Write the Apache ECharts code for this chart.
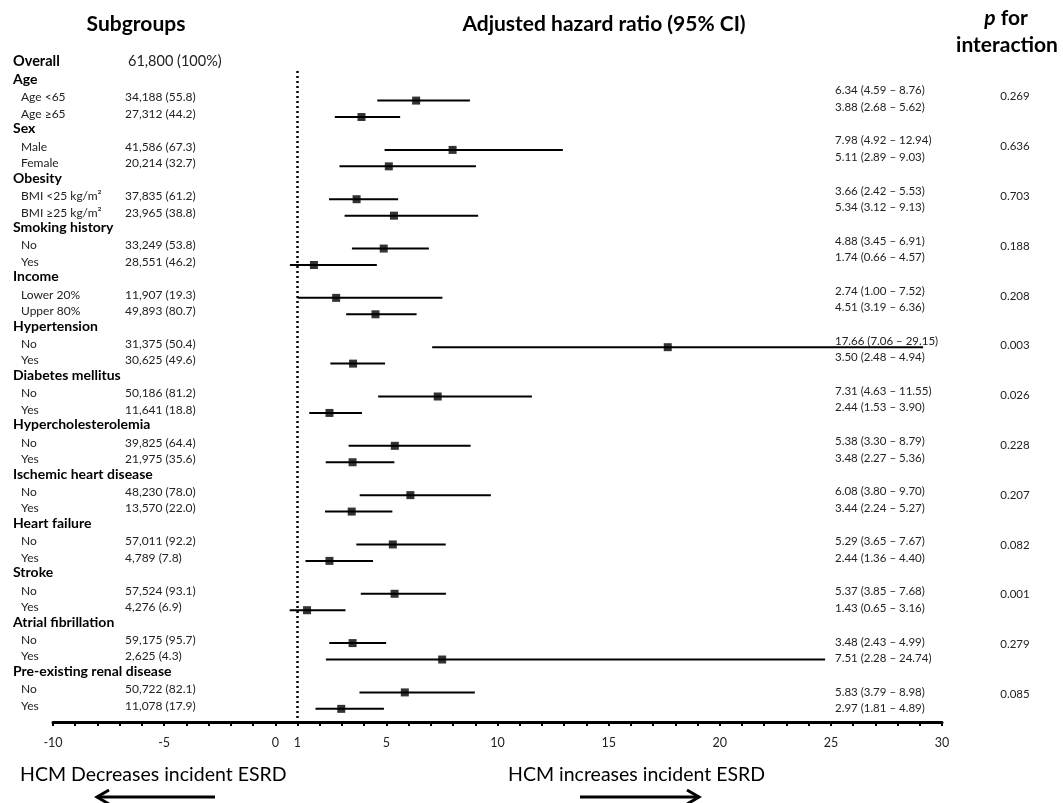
<!DOCTYPE html>
<html>
<head>
<meta charset="utf-8">
<title>Subgroup forest plot</title>
<script src="https://cdn.jsdelivr.net/npm/echarts@6/dist/echarts.min.js"></script>
<style>
  html, body { margin: 0; padding: 0; background: #fff; }
  #main { width: 1063px; height: 803px; }
</style>
</head>
<body>
<div id="main"></div>
<script>
// subgroup headers and their two rows
const groups = ['Age', 'Sex', 'Obesity', 'Smoking history', 'Income', 'Hypertension', 'Diabetes mellitus',
  'Hypercholesterolemia', 'Ischemic heart disease', 'Heart failure', 'Stroke', 'Atrial fibrillation',
  'Pre-existing renal disease'];
const subLabels = [
  ['Age <65', 'Age ≥65'], ['Male', 'Female'], ['BMI <25 kg/m²', 'BMI ≥25 kg/m²'], ['No', 'Yes'],
  ['Lower 20%', 'Upper 80%'], ['No', 'Yes'], ['No', 'Yes'], ['No', 'Yes'], ['No', 'Yes'],
  ['No', 'Yes'], ['No', 'Yes'], ['No', 'Yes'], ['No', 'Yes']
];
const counts = [
  '34,188 (55.8)', '27,312 (44.2)', '41,586 (67.3)', '20,214 (32.7)', '37,835 (61.2)', '23,965 (38.8)',
  '33,249 (53.8)', '28,551 (46.2)', '11,907 (19.3)', '49,893 (80.7)', '31,375 (50.4)', '30,625 (49.6)',
  '50,186 (81.2)', '11,641 (18.8)', '39,825 (64.4)', '21,975 (35.6)', '48,230 (78.0)', '13,570 (22.0)',
  '57,011 (92.2)', '4,789 (7.8)', '57,524 (93.1)', '4,276 (6.9)', '59,175 (95.7)', '2,625 (4.3)',
  '50,722 (82.1)', '11,078 (17.9)'
];
const overallLabel = 'Overall';
const overallCount = '61,800 (100%)';

// adjusted hazard ratio and 95% CI, one value per row
const hr = [6.34, 3.88, 7.98, 5.11, 3.66, 5.34, 4.88, 1.74, 2.74, 4.51, 17.66, 3.50, 7.31, 2.44,
  5.38, 3.48, 6.08, 3.44, 5.29, 2.44, 5.37, 1.43, 3.48, 7.51, 5.83, 2.97];
const ciLow = [4.59, 2.68, 4.92, 2.89, 2.42, 3.12, 3.45, 0.66, 1.00, 3.19, 7.06, 2.48, 4.63, 1.53,
  3.30, 2.27, 3.80, 2.24, 3.65, 1.36, 3.85, 0.65, 2.43, 2.28, 3.79, 1.81];
const ciHigh = [8.76, 5.62, 12.94, 9.03, 5.53, 9.13, 6.91, 4.57, 7.52, 6.36, 29.15, 4.94, 11.55, 3.90,
  8.79, 5.36, 9.70, 5.27, 7.67, 4.40, 7.68, 3.16, 4.99, 24.74, 8.98, 4.89];
const pInteraction = ['0.269', '0.636', '0.703', '0.188', '0.208', '0.003', '0.026', '0.228', '0.207',
  '0.082', '0.001', '0.279', '0.085'];

const xTickLabels = [-10, -5, 0, 1, 5, 10, 15, 20, 25, 30];

const FONT = 'Lato, "Open Sans", sans-serif';

// row position on the (hidden) y axis: group g, item i
function rowY(g, i) { return 3 * g + 1 + i; }

const ciData = [], pointData = [];
hr.forEach(function (v, k) {
  const g = Math.floor(k / 2), i = k % 2;
  ciData.push([ciLow[k], ciHigh[k], rowY(g, i)]);
  pointData.push([v, rowY(g, i)]);
});

let myChart = echarts.init(document.getElementById('main'));

myChart.setOption({
  animation: false,
  grid: { left: 53, right: 121, top: 71, bottom: 81 },
  xAxis: {
    type: 'value',
    min: -10,
    max: 30,
    interval: 1,
    position: 'bottom',
    axisLine: { onZero: false, lineStyle: { color: '#000', width: 3 } },
    axisTick: { show: true, length: 4, lineStyle: { color: '#000', width: 2 } },
    splitLine: { show: false },
    axisLabel: {
      margin: 14,
      color: '#222',
      fontFamily: FONT,
      fontSize: 12.5,
      formatter: function (v) { return xTickLabels.indexOf(v) >= 0 ? String(v) : ''; }
    }
  },
  yAxis: {
    type: 'value',
    inverse: true,
    min: -0.8,
    max: 38.8,
    show: false
  },
  series: [
    {
      type: 'custom',
      name: 'CI',
      data: ciData,
      encode: { x: [0, 1], y: 2 },
      renderItem: function (params, api) {
        const a = api.coord([api.value(0), api.value(2)]);
        const b = api.coord([api.value(1), api.value(2)]);
        return {
          type: 'line',
          shape: { x1: a[0], y1: a[1], x2: b[0], y2: b[1] },
          style: { stroke: '#000', lineWidth: 2 }
        };
      },
      silent: true
    },
    {
      type: 'scatter',
      name: 'HR',
      data: pointData,
      symbol: 'rect',
      symbolSize: 8,
      itemStyle: { color: '#000' },
      silent: true,
      markLine: {
        silent: true,
        symbol: 'none',
        label: { show: false },
        lineStyle: { color: '#000', width: 2.5, type: [2, 3] },
        data: [{ xAxis: 1 }]
      }
    }
  ]
});

// text columns, placed on the same vertical scale as the rows
const px = function (v) { return myChart.convertToPixel({ yAxisIndex: 0 }, v); };
const graphics = [];
function txt(text, x, y, opt) {
  graphics.push({
    type: 'text',
    silent: true,
    style: Object.assign({
      text: text, x: x, y: y, fill: '#111', fontFamily: FONT, fontSize: 12,
      align: 'left', verticalAlign: 'middle'
    }, opt || {})
  });
}

// headings
const headStyle = { fontSize: 21, fontWeight: 'bold', align: 'center', fill: '#000' };
txt('Subgroups', 136, 24, headStyle);
txt('Adjusted hazard ratio (95% CI)', 604, 24, headStyle);
txt('{i|p} for', 1006, 18, Object.assign({}, headStyle, {
  rich: { i: { fontStyle: 'italic', fontWeight: 'bold', fontSize: 21, fontFamily: FONT, fill: '#000' } }
}));
txt('interaction', 1007, 45, headStyle);

// overall
const first = px(rowY(0, 0));
txt(overallLabel, 13, first - 39, { fontSize: 14.5, fontWeight: 'bold', fill: '#000' });
txt(overallCount, 128, first - 39, { fontSize: 14.5, fill: '#222' });

groups.forEach(function (name, g) {
  const y1 = px(rowY(g, 0)), y2 = px(rowY(g, 1));
  txt(name, 13, y1 - 21, { fontSize: 14, fontWeight: 'bold', fill: '#000' });
  [y1, y2].forEach(function (y, i) {
    const k = g * 2 + i;
    txt(subLabels[g][i], 21, y - 3, { fontSize: 12, fill: '#222' });
    txt(counts[k], 125, y - 3, { fontSize: 12, fill: '#222' });
    txt(hr[k].toFixed(2) + ' (' + ciLow[k].toFixed(2) + ' – ' + ciHigh[k].toFixed(2) + ')',
      835, y - 10 + 0.8 * g, { fontSize: 11.5, fill: '#222' });
  });
  txt(pInteraction[g], 1015, y1 - 4 + 0.5 * g, { fontSize: 11.5, fill: '#222', align: 'center' });
});

// direction captions and arrows
txt('HCM Decreases incident ESRD', 20, 775, { fontSize: 19.5, fill: '#000' });
txt('HCM increases incident ESRD', 508, 775, { fontSize: 19.5, fill: '#000' });
const arrowStyle = { stroke: '#000', lineWidth: 3, fill: null };
graphics.push(
  { type: 'polyline', silent: true, shape: { points: [[215, 797], [97, 797]] }, style: arrowStyle },
  { type: 'polyline', silent: true, shape: { points: [[109, 790], [97, 797], [109, 804]] }, style: arrowStyle },
  { type: 'polyline', silent: true, shape: { points: [[580, 797], [699, 797]] }, style: arrowStyle },
  { type: 'polyline', silent: true, shape: { points: [[687, 790], [699, 797], [687, 804]] }, style: arrowStyle }
);

myChart.setOption({ graphic: graphics });
</script>
</body>
</html>
